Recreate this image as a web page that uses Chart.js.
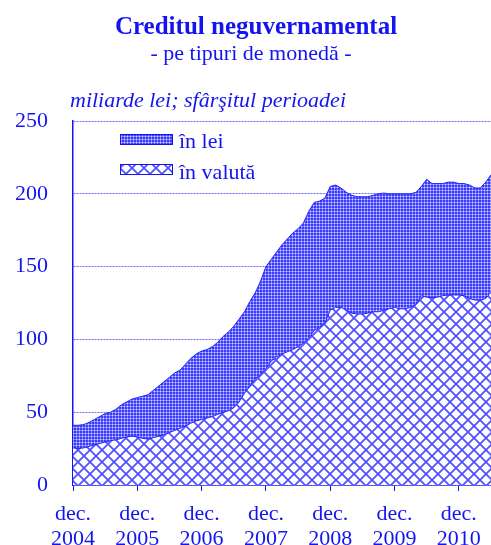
<!DOCTYPE html>
<html>
<head>
<meta charset="utf-8">
<script src="https://cdn.jsdelivr.net/npm/chart.js@4"></script>
<style>
  body { margin: 0; background: #fff; }
  #wrap { width: 491px; height: 545px; }
</style>
</head>
<body>
<div id="wrap"><canvas id="grafic" width="491" height="545"></canvas></div>
<script>
// luni: dec. 2004 ... iun. 2011
var ani = ["2004", "2005", "2006", "2007", "2008", "2009", "2010", "2011"];
var luni = [];
for (var i = 0; i < 79; i++) {
    var idx = Math.floor((i + 11) / 12);
    luni.push(i % 12 === 0 ? "dec. " + ani[idx] : "l" + i);
}

// miliarde lei
var inValuta = [25.5, 25, 25.5, 26.5, 27.5, 28.5, 29.5, 30.5, 31, 32, 33, 33.5,
    33, 32, 31.5, 32.5, 33.5, 34.5, 36, 37.5, 39, 40.5, 42.5, 44,
    45, 46, 47, 48.5, 50, 51, 53, 57, 63, 68, 73, 76,
    80, 85, 88, 90, 91.5, 93, 95, 97.5, 101, 106, 108.5, 111,
    120, 122, 122, 120, 118, 117.5, 117.5, 118, 119, 119, 120, 121,
    122, 121, 121, 122, 124, 130, 129, 128.5, 129, 130, 130.5, 130.5,
    130.5, 130, 128, 127, 127, 128, 132.5];

var inLei = [15.5, 16, 16, 16.5, 17.5, 18.5, 19.5, 19.5, 21, 23, 24, 25.5,
    27, 29, 30.5, 32.5, 34.5, 36.5, 38, 39.5, 40, 42.5, 44.5, 46,
    47, 47, 48, 49.5, 52, 54, 56, 57, 56, 58, 59, 64,
    70, 70, 72, 75, 77.5, 80, 81, 82.5, 87, 88, 86.5, 86,
    85, 84, 82, 81, 81, 80.5, 80.5, 80, 80, 81, 80.5, 79,
    78, 79, 79, 78, 77, 75, 81, 78.5, 78, 77, 77.5, 77.5,
    76.5, 77, 78, 77, 77, 80, 80.5];

var albastru = "#1414f0";
var font = "'Liberation Serif'";

// hasuri
function hasuraValuta() {
    var c = document.createElement("canvas");
    c.width = 12; c.height = 12;
    var x = c.getContext("2d");
    x.fillStyle = "#fff";
    x.fillRect(0, 0, 12, 12);
    x.strokeStyle = "#5252ff";
    x.lineWidth = 1.8;
    x.beginPath();
    x.moveTo(-2, -2); x.lineTo(14, 14);
    x.moveTo(-2, 14); x.lineTo(14, -2);
    x.stroke();
    return x.createPattern(c, "repeat");
}

function hasuraLei() {
    var c = document.createElement("canvas");
    c.width = 3; c.height = 3;
    var x = c.getContext("2d");
    x.fillStyle = "#3c3cff";
    x.fillRect(0, 0, 3, 3);
    x.fillStyle = "#8484ff";
    x.fillRect(1, 0, 1, 3);
    x.fillRect(0, 1, 3, 1);
    x.fillStyle = "#d4d4ff";
    x.fillRect(1, 1, 1, 1);
    return x.createPattern(c, "repeat");
}

var pValuta = hasuraValuta();
var pLei = hasuraLei();

var texte = {
    id: "texte",
    afterDraw: function(chart) {
        var c = chart.ctx;
        c.save();
        c.fillStyle = albastru;
        c.textAlign = "center";
        c.textBaseline = "alphabetic";
        c.font = "bold 25px " + font;
        c.fillText("Creditul neguvernamental", 256, 34);
        c.font = "22px " + font;
        c.fillText("- pe tipuri de monedă -", 251, 60);
        c.textAlign = "left";
        c.font = "italic 22px " + font;
        c.fillText("miliarde lei; sfârşitul perioadei", 70, 107);

        // legenda
        c.fillStyle = pLei;
        c.fillRect(120, 134, 53, 11);
        c.strokeStyle = albastru;
        c.lineWidth = 1;
        c.strokeRect(120.5, 134.5, 52, 10);
        c.fillStyle = pValuta;
        c.fillRect(120, 164, 53, 11);
        c.strokeRect(120.5, 164.5, 52, 10);
        c.fillStyle = albastru;
        c.font = "22px " + font;
        c.fillText("în lei", 179, 148);
        c.fillText("în valută", 179, 179);
        c.restore();
    }
};

var ctx = document.getElementById("grafic").getContext("2d");
var grafic = new Chart(ctx, {
    type: "line",
    data: {
        labels: luni,
        datasets: [
            {
                label: "în valută",
                data: inValuta,
                fill: "origin",
                backgroundColor: pValuta,
                borderColor: "#2020ff",
                borderWidth: 1,
                pointRadius: 0,
                tension: 0
            },
            {
                label: "în lei",
                data: inLei,
                fill: "-1",
                backgroundColor: pLei,
                borderColor: "#2020ff",
                borderWidth: 1,
                pointRadius: 0,
                tension: 0
            }
        ]
    },
    options: {
        responsive: false,
        animation: false,
        layout: { padding: { left: 0, top: 121, right: 0, bottom: 0 } },
        plugins: {
            legend: { display: false },
            title: { display: false },
            tooltip: { enabled: false }
        },
        scales: {
            x: {
                offset: false,
                border: { color: albastru, width: 1.5 },
                grid: {
                    drawOnChartArea: false,
                    drawTicks: true,
                    tickLength: 6,
                    tickColor: function(c) { return c.index % 12 === 0 ? albastru : "rgba(0,0,0,0)"; }
                },
                ticks: {
                    autoSkip: false,
                    maxRotation: 0,
                    color: albastru,
                    padding: 11,
                    font: { family: font, size: 22, lineHeight: 1.12 },
                    callback: function(v, i) {
                        var l = luni[i];
                        return l.indexOf("dec.") === 0 ? l.split(" ") : "";
                    }
                },
                afterFit: function(s) { s.height = 60; s.paddingRight = 0; }
            },
            y: {
                stacked: true,
                min: 0,
                max: 250,
                border: { color: albastru, width: 1.5, dash: [2, 1] },
                grid: {
                    color: "#6a6aff",
                    lineWidth: 1,
                    drawTicks: false
                },
                ticks: {
                    stepSize: 50,
                    color: albastru,
                    padding: 25,
                    font: { family: font, size: 22 }
                },
                afterFit: function(s) { s.width = 73; }
            }
        }
    },
    plugins: [texte]
});
</script>
</body>
</html>
